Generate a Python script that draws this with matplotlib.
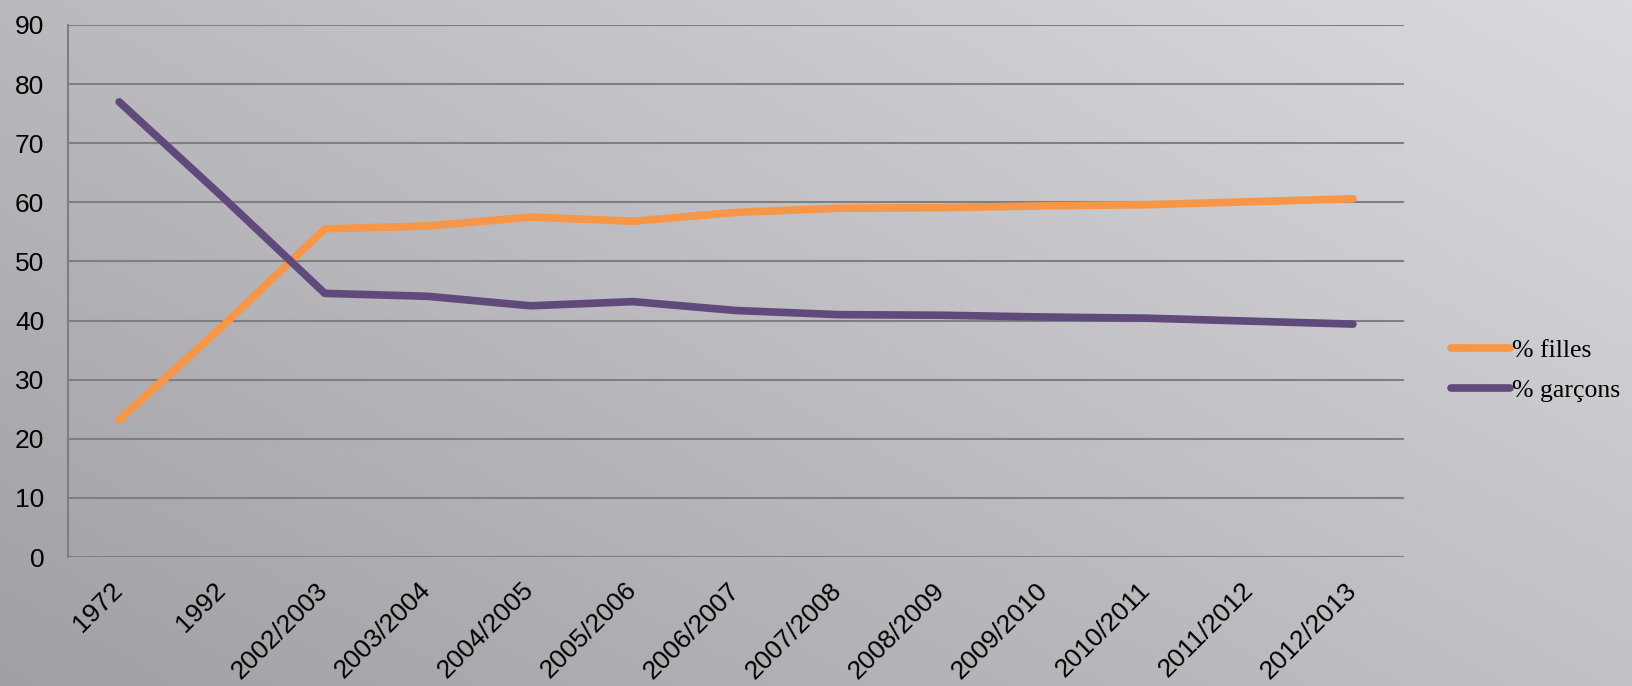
import numpy as np
import matplotlib.pyplot as plt
from matplotlib.transforms import ScaledTranslation

annees = ['1972', '1992', '2002/2003', '2003/2004', '2004/2005', '2005/2006',
          '2006/2007', '2007/2008', '2008/2009', '2009/2010', '2010/2011',
          '2011/2012', '2012/2013']
filles = [23.2, 39.0, 55.5, 56.0, 57.5, 56.8, 58.3, 59.0, 59.1, 59.4, 59.6, 60.1, 60.6]
garcons = [77.0, 61.0, 44.6, 44.1, 42.5, 43.2, 41.7, 41.0, 40.9, 40.6, 40.4, 39.9, 39.4]

fig = plt.figure(figsize=(16.33, 6.86), dpi=100)

# fond gris en degrade
bg = fig.add_axes([0, 0, 1, 1], zorder=-10)
gx, gy = np.meshgrid(np.linspace(0, 1, 200), np.linspace(1, 0, 200))
g = 0.63 + 0.13 * gx + 0.10 * gy
img = np.dstack([g, g - 0.005, g + 0.012])
bg.imshow(np.clip(img, 0, 1), aspect='auto', extent=[0, 1, 0, 1])
bg.axis('off')

ax = fig.add_axes([0.0415, 0.188, 0.8185, 0.7756])
ax.patch.set_alpha(0)
x = np.arange(len(annees))
ax.plot(x, filles, color='#F79646', lw=5.5, solid_capstyle='round', label='% filles')
ax.plot(x, garcons, color='#604A7B', lw=5.5, solid_capstyle='round', label='% garçons')

ax.set_xlim(-0.5, len(annees) - 0.5)
ax.set_ylim(0, 90)
ax.set_yticks(range(0, 91, 10))
ax.yaxis.grid(True, color='#7f7f7f', lw=1.5)
ax.set_axisbelow(True)
for s in ['top', 'right', 'bottom']:
    ax.spines[s].set_visible(False)
ax.spines['left'].set_color('#7f7f7f')
ax.spines['left'].set_linewidth(1.5)
ax.tick_params(axis='both', length=0, labelsize=19, labelcolor='black')
ax.tick_params(axis='y', pad=17)
ax.tick_params(axis='x', pad=15)
ax.set_xticks(x)
ax.set_xticklabels(annees, rotation=45, ha='right', rotation_mode='anchor',
                   family='Liberation Sans')
decal = ScaledTranslation(-0.09, 0, fig.dpi_scale_trans)
for t in ax.get_xticklabels():
    t.set_transform(t.get_transform() + decal)
for t in ax.get_yticklabels():
    t.set_family('Liberation Sans')

leg = ax.legend(loc='center left', bbox_to_anchor=(1.035, 0.35), frameon=False,
                prop={'family': 'Liberation Serif', 'size': 18.5},
                handlelength=2.3, handletextpad=0.05, labelspacing=0.65,
                borderaxespad=0, borderpad=0)

plt.savefig('out.png', dpi=100)
